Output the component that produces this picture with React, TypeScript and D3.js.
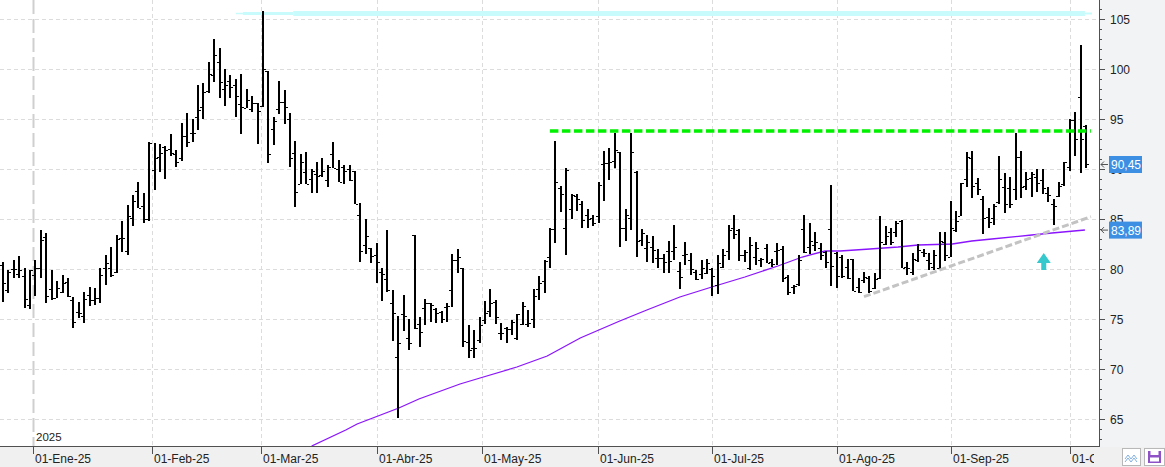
import React from 'react';
import * as d3 from 'd3';

const W = 1165;
const H = 467;
const PLOT_RIGHT = 1099;
const PLOT_BOTTOM = 446;

// Daily OHLC bars (late Dec 2024 -> early Oct 2025)
const opens = [
  80.4, 77.9, 80.0, 79.5, 79.3, 76.4, 79.4, 80.1, 83.2, 78.0,
  77.1, 77.7, 78.7, 76.9, 75.7, 75.3, 77.4, 76.9, 77.1, 80.1,
  80.1, 79.7, 83.1, 81.8, 85.1, 87.8, 86.3, 85.0, 89.9, 91.2,
  92.2, 92.0, 91.5, 91.1, 93.3, 93.6, 95.2, 96.2, 97.8, 99.4,
  100.7, 98.0, 98.8, 98.4, 96.5, 96.1, 96.0, 96.6, 96.3, 99.8,
  94.0, 96.0, 96.7, 95.0, 91.6, 88.5, 89.7, 89.0, 89.5, 89.4,
  88.9, 91.5, 90.0, 90.2, 90.0, 89.8, 85.4, 82.4, 82.1, 81.4,
  79.7, 79.0, 76.6, 71.2, 75.5, 73.1, 83.4, 74.5, 76.1, 76.6,
  76.0, 75.7, 76.2, 77.9, 80.9, 80.1, 72.7, 72.1, 72.9, 74.9,
  75.8, 76.7, 73.6, 74.1, 74.0, 73.1, 74.5, 74.5, 75.0, 78.0,
  78.8, 81.2, 84.0, 88.1, 84.1, 86.0, 87.3, 86.5, 85.4, 85.1,
  85.3, 90.5, 90.6, 90.8, 91.7, 84.1, 85.1, 89.7, 82.9, 82.1,
  82.2, 81.1, 81.1, 81.8, 81.8, 79.8, 81.4, 80.9, 79.7, 79.5,
  79.6, 80.0, 78.4, 80.2, 81.8, 84.1, 83.9, 81.4, 80.1, 81.2,
  80.9, 82.1, 80.7, 81.8, 82.0, 79.2, 78.2, 78.5, 84.0, 82.2,
  82.4, 82.1, 81.7, 84.0, 81.6, 81.2, 80.2, 81.0, 78.2, 78.9,
  79.1, 78.1, 79.1, 82.5, 83.7, 83.7, 84.8, 80.2, 79.7, 80.9,
  81.7, 80.9, 80.2, 80.1, 82.7, 81.2, 83.9, 85.3, 89.0, 91.1,
  88.6, 87.0, 85.2, 85.1, 86.7, 88.2, 88.1, 88.0, 91.2, 88.3,
  89.1, 89.2, 88.9, 87.6, 86.5, 87.3, 88.5, 90.2, 94.9, 97.2,
  94.3,
];
const highs = [
  80.7, 79.9, 80.9, 81.3, 80.1, 79.9, 80.9, 83.9, 83.6, 79.9,
  78.8, 79.4, 79.1, 77.2, 76.7, 77.7, 78.2, 78.1, 80.1, 81.4,
  82.2, 83.4, 84.8, 86.4, 87.4, 88.7, 87.6, 92.7, 92.6, 92.5,
  92.3, 93.5, 91.9, 94.6, 95.6, 95.0, 98.4, 98.6, 100.7, 103.0,
  102.1, 100.0, 99.4, 99.0, 99.5, 98.0, 97.3, 96.6, 105.8, 99.8,
  95.2, 98.8, 97.9, 95.6, 92.8, 91.5, 91.7, 90.0, 90.7, 91.1,
  90.4, 92.7, 90.9, 90.4, 90.4, 89.8, 86.6, 85.0, 82.1, 82.6,
  80.1, 83.9, 77.9, 75.3, 77.4, 75.0, 83.4, 75.2, 77.0, 76.6,
  76.1, 75.8, 76.6, 81.5, 82.0, 80.1, 74.4, 73.9, 75.2, 76.8,
  78.0, 76.9, 74.6, 74.2, 74.9, 75.5, 76.7, 75.9, 78.0, 79.3,
  80.9, 84.1, 92.8, 88.3, 90.1, 87.5, 87.5, 86.8, 86.0, 85.4,
  88.7, 91.8, 92.1, 93.6, 91.7, 86.0, 93.6, 89.8, 84.0, 83.4,
  83.3, 82.0, 81.5, 82.8, 84.4, 80.7, 82.7, 81.6, 79.9, 80.9,
  81.0, 80.1, 81.4, 82.0, 84.4, 85.4, 84.0, 81.9, 83.2, 82.7,
  81.1, 82.5, 81.0, 82.6, 82.3, 79.4, 78.4, 81.4, 85.4, 84.6,
  83.7, 82.6, 81.8, 88.4, 81.7, 81.4, 81.0, 81.0, 79.1, 79.7,
  79.3, 79.6, 85.3, 84.3, 84.1, 84.8, 84.9, 80.7, 81.6, 82.5,
  82.0, 81.6, 81.9, 83.7, 83.7, 86.8, 85.8, 88.6, 91.7, 91.8,
  89.1, 87.3, 86.1, 86.5, 91.3, 89.6, 89.2, 93.6, 91.8, 89.7,
  89.7, 90.0, 90.0, 88.2, 87.0, 88.7, 90.7, 95.0, 95.7, 102.4,
  94.4,
];
const lows = [
  76.7, 77.6, 79.1, 79.1, 76.1, 76.0, 77.3, 79.1, 76.6, 76.9,
  77.1, 77.6, 77.2, 74.1, 75.1, 74.6, 76.3, 76.4, 76.6, 78.4,
  79.2, 79.6, 81.7, 81.4, 84.3, 86.1, 84.6, 84.8, 87.9, 89.7,
  89.0, 91.3, 90.2, 90.8, 92.2, 92.7, 93.9, 95.0, 97.6, 98.7,
  97.1, 96.3, 97.1, 95.2, 93.5, 96.1, 95.7, 92.5, 96.2, 90.6,
  92.4, 95.5, 94.5, 90.2, 86.2, 88.5, 88.5, 87.6, 87.6, 89.2,
  88.2, 90.1, 88.7, 88.5, 88.8, 86.5, 80.7, 81.5, 80.6, 78.6,
  76.8, 77.7, 72.8, 65.1, 73.8, 71.9, 74.0, 72.2, 74.4, 74.7,
  74.6, 74.6, 74.7, 76.2, 79.6, 72.2, 71.1, 71.1, 72.6, 74.5,
  75.2, 74.5, 72.9, 72.6, 73.4, 72.9, 74.4, 74.2, 74.1, 76.9,
  77.6, 80.1, 82.6, 85.7, 81.4, 85.0, 85.8, 84.1, 84.1, 84.3,
  84.6, 86.8, 88.9, 90.07, 82.2, 82.8, 83.9, 81.2, 82.3, 80.7,
  80.6, 80.1, 79.6, 79.6, 80.9, 78.0, 80.4, 79.4, 78.9, 79.0,
  79.5, 77.3, 77.5, 80.1, 80.9, 83.0, 80.8, 80.7, 79.9, 80.4,
  80.2, 80.6, 80.2, 80.4, 78.7, 77.4, 77.5, 78.3, 81.6, 81.5,
  81.8, 80.9, 80.1, 78.3, 78.1, 79.1, 79.0, 77.8, 77.6, 78.6,
  77.6, 78.0, 79.0, 82.4, 82.4, 83.2, 80.1, 79.4, 79.4, 80.7,
  81.2, 79.9, 79.9, 80.0, 80.8, 81.2, 83.7, 85.3, 88.2, 87.1,
  87.4, 83.5, 84.1, 84.4, 86.5, 85.6, 86.1, 86.9, 87.1, 87.9,
  87.2, 87.7, 87.5, 86.7, 84.4, 87.2, 88.3, 89.8, 91.3, 89.6,
  90.1,
];
const closes = [
  78.6, 79.7, 80.0, 79.9, 77.0, 79.9, 80.1, 82.9, 77.3, 77.1,
  78.1, 78.6, 77.3, 74.7, 75.6, 77.0, 76.9, 77.1, 79.4, 80.6,
  79.4, 83.0, 83.1, 85.3, 86.8, 86.1, 85.0, 92.6, 91.1, 91.6,
  91.9, 91.6, 90.7, 93.3, 92.7, 93.6, 95.9, 97.7, 99.5, 101.4,
  98.7, 98.4, 98.2, 97.3, 96.2, 96.9, 96.6, 95.8, 100.0, 91.5,
  94.8, 96.7, 96.2, 91.1, 87.7, 90.7, 88.5, 89.8, 89.3, 89.8,
  90.2, 90.1, 88.7, 89.8, 88.9, 86.5, 81.8, 83.3, 81.3, 80.7,
  79.5, 77.9, 75.6, 72.6, 75.3, 72.6, 74.1, 73.7, 76.6, 76.4,
  75.6, 75.0, 76.3, 80.9, 81.2, 72.8, 71.9, 72.1, 74.4, 75.6,
  76.6, 75.2, 73.6, 74.0, 74.7, 75.5, 76.3, 74.6, 77.3, 78.6,
  80.8, 84.0, 88.7, 87.5, 89.9, 87.4, 87.0, 84.9, 85.0, 84.6,
  88.4, 90.6, 90.7, 91.9, 84.1, 85.4, 91.7, 82.8, 83.6, 82.7,
  81.9, 81.1, 80.7, 80.8, 82.2, 79.2, 81.5, 80.0, 79.0, 80.1,
  80.6, 79.3, 80.6, 81.4, 83.9, 83.5, 81.4, 81.7, 82.4, 82.1,
  81.0, 80.6, 80.5, 81.9, 79.1, 77.7, 78.3, 80.9, 81.7, 82.8,
  82.7, 81.4, 80.7, 80.3, 79.3, 79.3, 79.1, 77.8, 77.7, 79.2,
  77.8, 79.0, 82.7, 83.3, 82.7, 84.6, 80.1, 80.1, 81.0, 81.9,
  81.6, 80.6, 81.4, 82.8, 81.4, 84.1, 84.8, 88.6, 91.2, 88.3,
  88.0, 85.1, 84.7, 86.3, 89.0, 86.5, 86.5, 91.2, 88.2, 89.0,
  89.5, 88.6, 88.1, 87.4, 86.3, 88.3, 90.7, 94.9, 93.0, 93.0,
  90.45,
];

// Moving average read at selected bar positions
const maIdx = [57, 63.3, 65.4, 73.1, 76.8, 84.4, 88.1, 94.9, 100.5, 106.6, 113.9, 118.9, 125, 130.9, 137, 143.1, 147.6, 151.8, 154.6, 160.1, 165.3, 169, 175.3, 178.9, 182.6, 190, 193.7, 199.8];
const maVal = [62.3, 63.9, 64.5, 66.1, 67.0, 68.5, 69.1, 70.2, 71.3, 73.1, 74.8, 75.9, 77.2, 78.2, 79.2, 80.3, 81.2, 81.8, 81.8, 82.0, 82.2, 82.4, 82.5, 82.8, 83.0, 83.4, 83.6, 83.9];

// Month ticks (position in bar units) and labels
const monthTickPos = [5.6, 27.6, 47.6, 69, 88.5, 109.9, 131, 154, 175, 197];
const monthTickLabels = ['01-Ene-25', '01-Feb-25', '01-Mar-25', '01-Abr-25', '01-May-25', '01-Jun-25', '01-Jul-25', '01-Ago-25', '01-Sep-25', '01-Oct-25'];
const yearLabel = '2025';

const yTicks = [65, 70, 75, 80, 85, 90, 95, 100, 105];

// Annotations
const resistance = { i0: 101, i1: 200.9, v: 93.8 };
const trendLine = { i0: 159, v0: 77.23, i1: 200.9, v1: 85.23 };
const cyanBand = [
  { i0: 43, i1: 44.3, v: 105.55, w: 1.5 },
  { i0: 44.3, i1: 53.6, v: 105.55, w: 3 },
  { i0: 53.6, i1: 199.8, v: 105.55, w: 5 },
  { i0: 199.8, i1: 201.1, v: 105.55, w: 2 },
];
const upArrow = { i: 192.2, vTop: 81.6, vBottom: 79.9 };
const lastPrice = { v: 90.45, label: '90,45' };
const lastMA = { v: 83.89, label: '83,89' };

const FONT = '"Liberation Sans", Arial, sans-serif';

export default function App() {
  const x = d3.scaleLinear().domain([0, 200]).range([3, 1086]);
  const y = d3.scaleLinear().domain([65, 105]).range([419, 19]);

  const maLine = d3
    .line<number>()
    .x((_, k) => x(maIdx[k]))
    .y((d) => y(d))(maVal) as string;

  const minorTicks = d3.range(63, 107);

  const arrowX = x(upArrow.i);
  const aTop = y(upArrow.vTop);
  const aBot = y(upArrow.vBottom);
  const headBase = aTop + 10;

  const priceBox = (v: number, label: string) => {
    const cy = y(v);
    return (
      <g key={label}>
        <path d={`M1108,${cy} L1101,${cy} M1104,${cy - 3} L1101,${cy} L1104,${cy + 3}`} stroke="#555" strokeWidth={1} fill="none" />
        <rect x={1109} y={cy - 8.5} width={33} height={17} fill="#3c8fe3" />
        <text x={1111} y={cy + 4.5} fontSize={12} fill="#fff" fontFamily={FONT}>{label}</text>
      </g>
    );
  };

  return (
    <svg width={W} height={H} style={{ position: 'absolute', left: 0, top: 0, display: 'block' }} xmlns="http://www.w3.org/2000/svg">
      <defs>
        <clipPath id="plotClip">
          <rect x={0} y={0} width={PLOT_RIGHT} height={PLOT_BOTTOM} />
        </clipPath>
        <clipPath id="xLabelClip">
          <rect x={0} y={PLOT_BOTTOM} width={1094} height={H - PLOT_BOTTOM} />
        </clipPath>
      </defs>
      <rect x={0} y={0} width={W} height={H} fill="#ffffff" />
      <rect x={PLOT_RIGHT} y={0} width={W - PLOT_RIGHT} height={H} fill="#f2f3f5" />
      <rect x={0} y={PLOT_BOTTOM + 1} width={W} height={H - PLOT_BOTTOM - 1} fill="#f0f0f0" />

      {/* horizontal grid */}
      {yTicks.map((t) => (
        <line key={`hg${t}`} x1={0} x2={PLOT_RIGHT} y1={Math.round(y(t)) + 0.5} y2={Math.round(y(t)) + 0.5} stroke="#dcdcdc" strokeDasharray="4,3" />
      ))}
      {/* vertical grid */}
      {monthTickPos.map((p, k) =>
        k === 0 ? null : (
          <line key={`vg${k}`} x1={Math.round(x(p)) + 0.5} x2={Math.round(x(p)) + 0.5} y1={0} y2={PLOT_BOTTOM} stroke="#dcdcdc" strokeDasharray="4,3" />
        )
      )}
      {/* year separator */}
      <line x1={Math.round(x(monthTickPos[0])) + 0.5} x2={Math.round(x(monthTickPos[0])) + 0.5} y1={0} y2={PLOT_BOTTOM} stroke="#cfcfcf" strokeWidth={2} strokeDasharray="14,5" />
      <text x={Math.round(x(monthTickPos[0])) + 3} y={441} fontSize={11.5} fill="#222" fontFamily={FONT}>{yearLabel}</text>

      <g clipPath="url(#plotClip)">
        {/* cyan band */}
        {cyanBand.map((s, k) => (
          <line key={`cb${k}`} x1={x(s.i0)} x2={x(s.i1)} y1={y(s.v)} y2={y(s.v)} stroke="#c8fbfb" strokeWidth={s.w} />
        ))}
        {/* moving average */}
        <path d={maLine} fill="none" stroke="#8a14ff" strokeWidth={1.3} />
        {/* OHLC bars */}
        {opens.map((o, i) => {
          const cx = Math.round(x(i));
          const yh = y(highs[i]);
          const yl = y(lows[i]);
          const yo = Math.round(y(o));
          const yc = Math.round(y(closes[i]));
          return (
            <g key={`b${i}`} fill="#000">
              <rect x={cx - 1} y={yh} width={2} height={Math.max(1, yl - yh)} />
              <rect x={cx - 3} y={yo} width={2} height={1} />
              <rect x={cx + 1} y={yc} width={2} height={1} />
            </g>
          );
        })}
        {/* resistance */}
        <line x1={x(resistance.i0)} x2={x(resistance.i1)} y1={y(resistance.v)} y2={y(resistance.v)} stroke="#00f000" strokeWidth={3.5} strokeDasharray="8.5,3.5" />
        {/* trend line */}
        <line x1={x(trendLine.i0)} x2={x(trendLine.i1)} y1={y(trendLine.v0)} y2={y(trendLine.v1)} stroke="#c3c3c3" strokeWidth={3} strokeDasharray="7,3" />
        {/* up arrow */}
        <path
          d={`M${arrowX},${aTop} L${arrowX + 7},${headBase} L${arrowX + 2.5},${headBase} L${arrowX + 2.5},${aBot} L${arrowX - 2.5},${aBot} L${arrowX - 2.5},${headBase} L${arrowX - 7},${headBase} Z`}
          fill="#35c8cc"
        />
      </g>

      {/* axes lines */}
      <line x1={0} x2={PLOT_RIGHT} y1={PLOT_BOTTOM + 0.5} y2={PLOT_BOTTOM + 0.5} stroke="#505050" />
      <line x1={PLOT_RIGHT + 0.5} x2={PLOT_RIGHT + 0.5} y1={0} y2={PLOT_BOTTOM + 1} stroke="#505050" />

      {/* y ticks */}
      {minorTicks.map((t) => {
        const yy = Math.round(y(t)) + 0.5;
        if (yy > PLOT_BOTTOM) return null;
        const major = t % 5 === 0;
        return <line key={`mt${t}`} x1={PLOT_RIGHT} x2={PLOT_RIGHT + (major ? 6 : 3)} y1={yy} y2={yy} stroke="#505050" />;
      })}
      {yTicks.map((t) => (
        <text key={`yl${t}`} x={1110} y={y(t) + 4.5} fontSize={12} fill="#222" fontFamily={FONT}>{t}</text>
      ))}

      {/* x ticks */}
      {monthTickPos.map((p, k) => (
        <line key={`xt${k}`} x1={Math.round(x(p)) + 0.5} x2={Math.round(x(p)) + 0.5} y1={PLOT_BOTTOM} y2={PLOT_BOTTOM + 8} stroke="#505050" />
      ))}
      <g clipPath="url(#xLabelClip)">
        {monthTickLabels.map((l, k) => (
          <text key={`xl${k}`} x={Math.round(x(monthTickPos[k])) + 2} y={463} fontSize={12} fill="#222" fontFamily={FONT}>{l}</text>
        ))}
      </g>

      {/* last value labels */}
      {priceBox(lastPrice.v, lastPrice.label)}
      {priceBox(lastMA.v, lastMA.label)}

      {/* bottom right buttons */}
      <rect x={1122.5} y={448.5} width={18} height={17} fill="#fff" stroke="#b8b8b8" />
      <path d="M1125,459 L1128,455 L1131,459 L1134,455 L1137,459 M1125,462 L1128,458 L1131,462 L1134,458 L1137,462" stroke="#7fb0e0" fill="none" strokeWidth={1} />
      <rect x={1144.5} y={448.5} width={20} height={17} fill="#fff" stroke="#b8b8b8" />
      <rect x={1148} y={451} width={13} height={12} fill="#8e52c6" />
      <rect x={1150.5} y={451} width={8} height={4} fill="#fff" />
      <rect x={1150} y={457.5} width={9} height={4} fill="#fff" />
    </svg>
  );
}
